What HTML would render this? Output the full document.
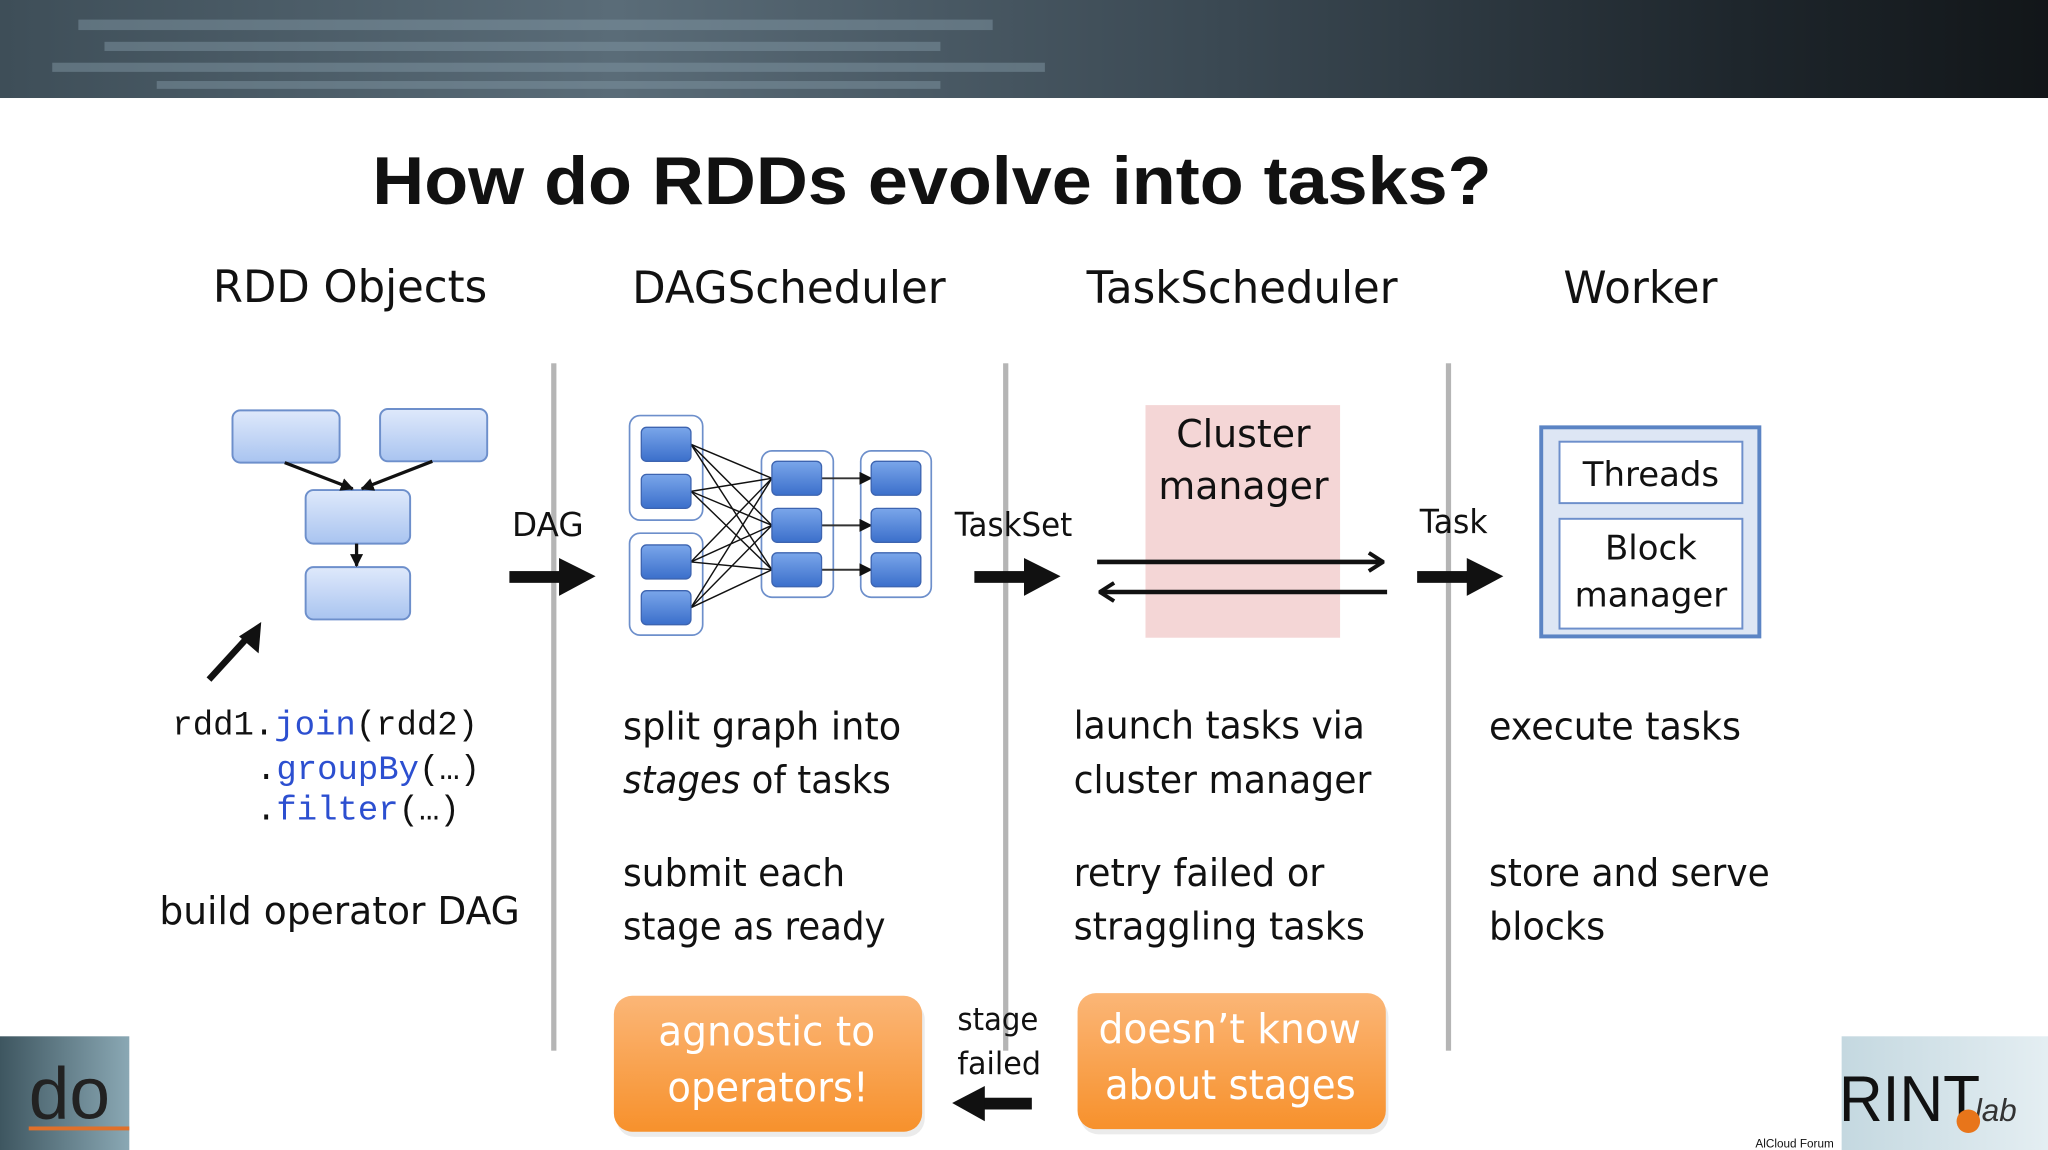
<!DOCTYPE html>
<html><head><meta charset="utf-8"><style>
html,body{margin:0;padding:0;background:#fff;width:2048px;height:1150px;overflow:hidden}
svg{display:block}
text{font-family:"DejaVu Sans","Liberation Sans",sans-serif;fill:#111}
.h{font-size:34px}
.b{font-size:29px}
.m{font-family:"Liberation Mono","DejaVu Sans Mono",monospace;font-size:26px}
.o{font-size:31px;fill:#fff}
</style></head><body>
<svg width="2048" height="1150" viewBox="0 0 1568 880" preserveAspectRatio="none">
<defs>
<linearGradient id="ban" x1="0" x2="1" y1="0" y2="0">
<stop offset="0" stop-color="#3e4e58"/><stop offset="0.3" stop-color="#5a6c78"/><stop offset="0.6" stop-color="#3a4852"/><stop offset="0.85" stop-color="#1e262c"/><stop offset="1" stop-color="#121619"/></linearGradient>
<linearGradient id="lb" x1="0" y1="0" x2="0" y2="1"><stop offset="0" stop-color="#dfe9fb"/><stop offset="1" stop-color="#a9c4f0"/></linearGradient>
<linearGradient id="db" x1="0" y1="0" x2="0" y2="1"><stop offset="0" stop-color="#7aa6ea"/><stop offset="1" stop-color="#3b6fcb"/></linearGradient>
<linearGradient id="or" x1="0" y1="0" x2="0" y2="1"><stop offset="0" stop-color="#fbb677"/><stop offset="1" stop-color="#f7912c"/></linearGradient>
<linearGradient id="bl" x1="0" y1="0" x2="1" y2="0"><stop offset="0" stop-color="#3e5660"/><stop offset="1" stop-color="#8aa8b4"/></linearGradient>
<linearGradient id="br" x1="0" y1="0" x2="1" y2="0"><stop offset="0" stop-color="#c4d8e0"/><stop offset="1" stop-color="#e4eef2"/></linearGradient>
<marker id="ah" markerWidth="10" markerHeight="10" refX="9" refY="5" orient="auto" markerUnits="userSpaceOnUse"><path d="M0,0 L10,5 L0,10 z" fill="#111"/></marker>
<marker id="op" markerWidth="14" markerHeight="16" refX="13" refY="8" orient="auto" markerUnits="userSpaceOnUse"><path d="M2,1 L13,8 L2,15" fill="none" stroke="#111" stroke-width="3"/></marker>
</defs>
<rect x="0" y="0" width="1568" height="75" fill="url(#ban)"/>
<g fill="#7f95a2" opacity="0.5">
<rect x="60" y="15" width="700" height="8"/><rect x="80" y="32" width="640" height="7"/><rect x="40" y="48" width="760" height="7"/><rect x="120" y="62" width="600" height="6"/>
</g>
<text x="285" y="156" style="font-family:'Liberation Sans',sans-serif;font-weight:bold;font-size:52px" textLength="857" lengthAdjust="spacingAndGlyphs">How do RDDs evolve into tasks?</text>
<text class="h" x="163" y="231" textLength="210" lengthAdjust="spacingAndGlyphs">RDD Objects</text>
<text class="h" x="484" y="232" textLength="240" lengthAdjust="spacingAndGlyphs">DAGScheduler</text>
<text class="h" x="832" y="232" textLength="238" lengthAdjust="spacingAndGlyphs">TaskScheduler</text>
<text class="h" x="1197" y="232" textLength="118" lengthAdjust="spacingAndGlyphs">Worker</text>
<g fill="#b5b5b5"><rect x="422" y="278" width="4" height="526"/><rect x="768" y="278" width="4" height="526"/><rect x="1107" y="278" width="4" height="526"/></g>
<!-- RDD objects -->
<g fill="url(#lb)" stroke="#6d8fcb" stroke-width="1.5">
<rect x="178" y="314" width="82" height="40" rx="6"/><rect x="291" y="313" width="82" height="40" rx="6"/>
<rect x="234" y="375" width="80" height="41" rx="6"/><rect x="234" y="434" width="80" height="40" rx="6"/>
</g>
<g stroke="#111" stroke-width="2.5" marker-end="url(#ah)">
<line x1="218" y1="354" x2="270" y2="374"/><line x1="331" y1="353" x2="277" y2="374"/><line x1="273" y1="416" x2="273" y2="433"/>
</g>
<line x1="160" y1="520" x2="193" y2="484" stroke="#111" stroke-width="5"/>
<path d="M200,476 L198,500 L183,487 z" fill="#111"/>
<text class="m" x="132" y="562">rdd1.<tspan fill="#2c4fd0">join</tspan>(rdd2)</text>
<text class="m" x="196" y="596">.<tspan fill="#2c4fd0">groupBy</tspan>(…)</text>
<text class="m" x="196" y="627">.<tspan fill="#2c4fd0">filter</tspan>(…)</text>
<text class="b" x="122" y="707" textLength="276" lengthAdjust="spacingAndGlyphs">build operator DAG</text>
<text x="392" y="410" style="font-size:25px">DAG</text>
<rect x="390" y="437" width="40" height="9" fill="#111"/><path d="M428,427 L456,441 L428,456 z" fill="#111"/>
<!-- DAG scheduler -->
<g fill="#fff" stroke="#6d8fcb" stroke-width="1.3">
<rect x="482" y="318" width="56" height="80" rx="8"/><rect x="482" y="408" width="56" height="78" rx="8"/>
<rect x="583" y="345" width="55" height="112" rx="8"/><rect x="659" y="345" width="54" height="112" rx="8"/>
</g>
<g stroke="#111" stroke-width="1.1">
<line x1="529" y1="340" x2="591" y2="366"/><line x1="529" y1="340" x2="591" y2="402"/><line x1="529" y1="340" x2="591" y2="436"/>
<line x1="529" y1="376" x2="591" y2="366"/><line x1="529" y1="376" x2="591" y2="402"/><line x1="529" y1="376" x2="591" y2="436"/>
<line x1="529" y1="430" x2="591" y2="366"/><line x1="529" y1="430" x2="591" y2="402"/><line x1="529" y1="430" x2="591" y2="436"/>
<line x1="529" y1="465" x2="591" y2="366"/><line x1="529" y1="465" x2="591" y2="402"/><line x1="529" y1="465" x2="591" y2="436"/>
</g>
<g stroke="#333" stroke-width="1.5" marker-end="url(#ah)">
<line x1="629" y1="366" x2="667" y2="366"/><line x1="629" y1="402" x2="667" y2="402"/><line x1="629" y1="436" x2="667" y2="436"/>
</g>
<g fill="url(#db)" stroke="#3d64b0" stroke-width="1">
<rect x="491" y="327" width="38" height="26" rx="4"/><rect x="491" y="363" width="38" height="26" rx="4"/>
<rect x="491" y="417" width="38" height="26" rx="4"/><rect x="491" y="452" width="38" height="26" rx="4"/>
<rect x="591" y="353" width="38" height="26" rx="4"/><rect x="591" y="389" width="38" height="26" rx="4"/><rect x="591" y="423" width="38" height="26" rx="4"/>
<rect x="667" y="353" width="38" height="26" rx="4"/><rect x="667" y="389" width="38" height="26" rx="4"/><rect x="667" y="423" width="38" height="26" rx="4"/>
</g>
<text class="b" x="477" y="566" textLength="213" lengthAdjust="spacingAndGlyphs">split graph into</text>
<text class="b" x="477" y="607" textLength="205" lengthAdjust="spacingAndGlyphs"><tspan font-style="italic">stages</tspan> of tasks</text>
<text class="b" x="477" y="678" textLength="170" lengthAdjust="spacingAndGlyphs">submit each</text>
<text class="b" x="477" y="719" textLength="201" lengthAdjust="spacingAndGlyphs">stage as ready</text>
<text x="731" y="410" style="font-size:25px" textLength="90" lengthAdjust="spacingAndGlyphs">TaskSet</text>
<rect x="746" y="437" width="40" height="9" fill="#111"/><path d="M784,427 L812,441 L784,456 z" fill="#111"/>
<!-- Task scheduler -->
<rect x="877" y="310" width="149" height="178" fill="#f4d6d6"/>
<text x="952" y="342" text-anchor="middle" style="font-size:29px">Cluster</text>
<text x="952" y="382" text-anchor="middle" style="font-size:29px">manager</text>
<line x1="840" y1="430" x2="1059" y2="430" stroke="#111" stroke-width="3.5" marker-end="url(#op)"/>
<line x1="1062" y1="453" x2="842" y2="453" stroke="#111" stroke-width="3.5" marker-end="url(#op)"/>
<text class="b" x="822" y="565" textLength="223" lengthAdjust="spacingAndGlyphs">launch tasks via</text>
<text class="b" x="822" y="607" textLength="228" lengthAdjust="spacingAndGlyphs">cluster manager</text>
<text class="b" x="822" y="678" textLength="192" lengthAdjust="spacingAndGlyphs">retry failed or</text>
<text class="b" x="822" y="719" textLength="223" lengthAdjust="spacingAndGlyphs">straggling tasks</text>
<text x="1087" y="408" style="font-size:25px" textLength="52" lengthAdjust="spacingAndGlyphs">Task</text>
<rect x="1085" y="437" width="40" height="9" fill="#111"/><path d="M1123,427 L1151,441 L1123,456 z" fill="#111"/>
<!-- Worker -->
<rect x="1180" y="327" width="167" height="160" fill="#dde6f4" stroke="#5b84c4" stroke-width="3"/>
<rect x="1194" y="338" width="140" height="47" fill="#fff" stroke="#6d8fcb" stroke-width="1.5"/>
<rect x="1194" y="397" width="140" height="84" fill="#fff" stroke="#6d8fcb" stroke-width="1.5"/>
<text x="1264" y="372" text-anchor="middle" style="font-size:26px">Threads</text>
<text x="1264" y="428" text-anchor="middle" style="font-size:26px">Block</text>
<text x="1264" y="464" text-anchor="middle" style="font-size:26px">manager</text>
<text class="b" x="1140" y="566" textLength="193" lengthAdjust="spacingAndGlyphs">execute tasks</text>
<text class="b" x="1140" y="678" textLength="215" lengthAdjust="spacingAndGlyphs">store and serve</text>
<text class="b" x="1140" y="719" textLength="89" lengthAdjust="spacingAndGlyphs">blocks</text>
<!-- orange -->
<rect x="472" y="766" width="236" height="104" rx="14" fill="#ddd" opacity="0.6"/>
<rect x="470" y="762" width="236" height="104" rx="14" fill="url(#or)"/>
<rect x="827" y="764" width="236" height="104" rx="14" fill="#ddd" opacity="0.6"/>
<rect x="825" y="760" width="236" height="104" rx="14" fill="url(#or)"/>
<text class="o" x="504" y="800" textLength="166" lengthAdjust="spacingAndGlyphs">agnostic to</text>
<text class="o" x="511" y="843" textLength="154" lengthAdjust="spacingAndGlyphs">operators!</text>
<text class="o" x="841" y="798" textLength="201" lengthAdjust="spacingAndGlyphs">doesn’t know</text>
<text class="o" x="846" y="841" textLength="192" lengthAdjust="spacingAndGlyphs">about stages</text>
<text x="733" y="788" style="font-size:24px" textLength="62" lengthAdjust="spacingAndGlyphs">stage</text>
<text x="733" y="822" style="font-size:24px" textLength="64" lengthAdjust="spacingAndGlyphs">failed</text>
<rect x="752" y="840" width="38" height="9" fill="#111"/><path d="M754,831 L729,844 L754,858 z" fill="#111"/>
<!-- corners -->
<rect x="0" y="793" width="99" height="87" fill="url(#bl)"/>
<text x="22" y="856" style="font-family:'Liberation Sans',sans-serif;font-size:56px;fill:#222">do</text>
<rect x="22" y="862" width="77" height="3" fill="#e0702a"/>
<rect x="1410" y="793" width="158" height="87" fill="url(#br)"/>
<text x="1408" y="858" style="font-family:'Liberation Sans',sans-serif;font-size:50px;fill:#111" textLength="108" lengthAdjust="spacingAndGlyphs">RINT</text>
<text x="1512" y="858" style="font-family:'Liberation Sans',sans-serif;font-style:italic;font-size:24px;fill:#333">lab</text>
<circle cx="1507" cy="858" r="9" fill="#e8751a"/>
<text x="1344" y="878" style="font-family:'Liberation Sans',sans-serif;font-size:9px;fill:#111">AlCloud Forum</text>
</svg>
</body></html>
